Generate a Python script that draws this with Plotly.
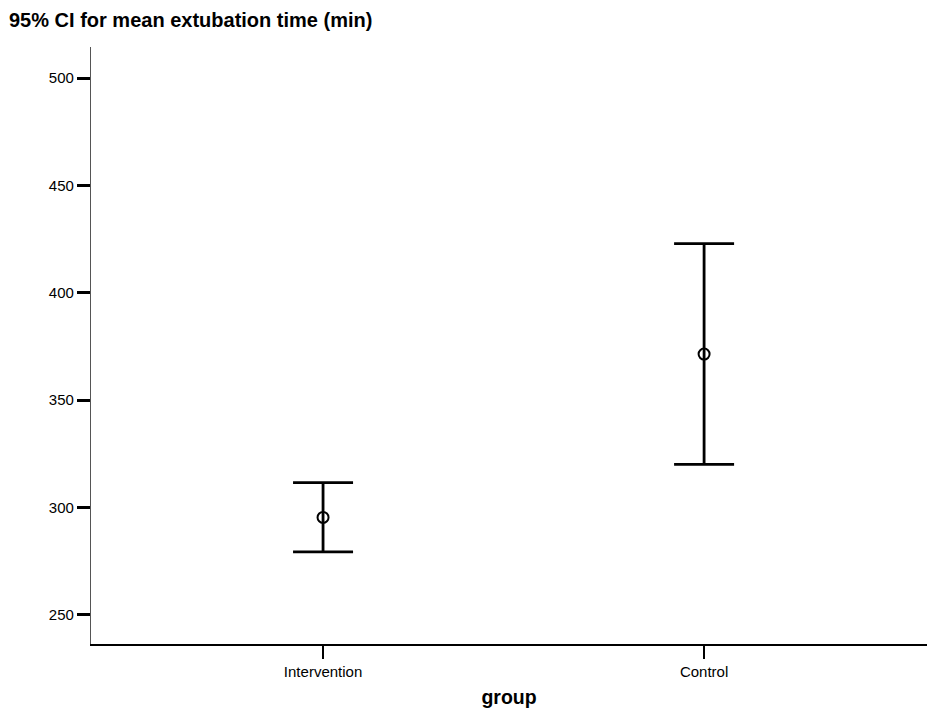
import plotly.graph_objects as go

groups = ["Intervention", "Control"]
means = [295.3, 371.4]
ci_lower = [279.2, 320.0]
ci_upper = [311.5, 422.9]
y_ticks = [250, 300, 350, 400, 450, 500]

err_plus = [u - m for u, m in zip(ci_upper, means)]
err_minus = [m - l for m, l in zip(means, ci_lower)]

font = "Liberation Sans, Arial, sans-serif"

fig = go.Figure()
fig.add_trace(go.Scatter(
    x=groups, y=means, mode="markers",
    marker=dict(symbol="circle-open", size=11, color="black", line=dict(width=2, color="black")),
    error_y=dict(type="data", symmetric=False, array=err_plus, arrayminus=err_minus,
                 color="black", thickness=2.8, width=30),
    showlegend=False, hoverinfo="skip",
))

fig.update_layout(
    width=927, height=714,
    autosize=False,
    margin=dict(l=91, r=0, t=47, b=70),
    paper_bgcolor="white", plot_bgcolor="white",
    font=dict(family=font, color="black", size=15),
    title=dict(text="<b>95% CI for mean extubation time (min)</b>", x=9/927, xref="container",
               xanchor="left", y=1 - 20/714, yanchor="middle", yref="container",
               font=dict(size=20, family=font, color="black")),
)

fig.update_xaxes(
    type="category", range=[-0.609, 1.585],
    showline=True, linecolor="black", linewidth=1.5,
    ticks="outside", ticklen=13, tickwidth=2, tickcolor="black",
    showgrid=False, zeroline=False,
    tickfont=dict(size=15, family=font, color="black"),
    title=dict(text="<b>group</b>", font=dict(size=19.5, family=font, color="black"), standoff=12),
)
fig.update_yaxes(
    range=[236.3, 514.5], tickvals=y_ticks,
    showline=True, linecolor="#555555", linewidth=1.2,
    ticks="outside", ticklen=13, tickwidth=2.5, tickcolor="black",
    showgrid=False, zeroline=False,
    tickfont=dict(size=15, family=font, color="black"),
)

fig.write_html(
    "out.html",
    config={"responsive": False, "displayModeBar": False},
    post_script="document.body.style.margin='0';document.body.style.overflow='hidden';",
)
